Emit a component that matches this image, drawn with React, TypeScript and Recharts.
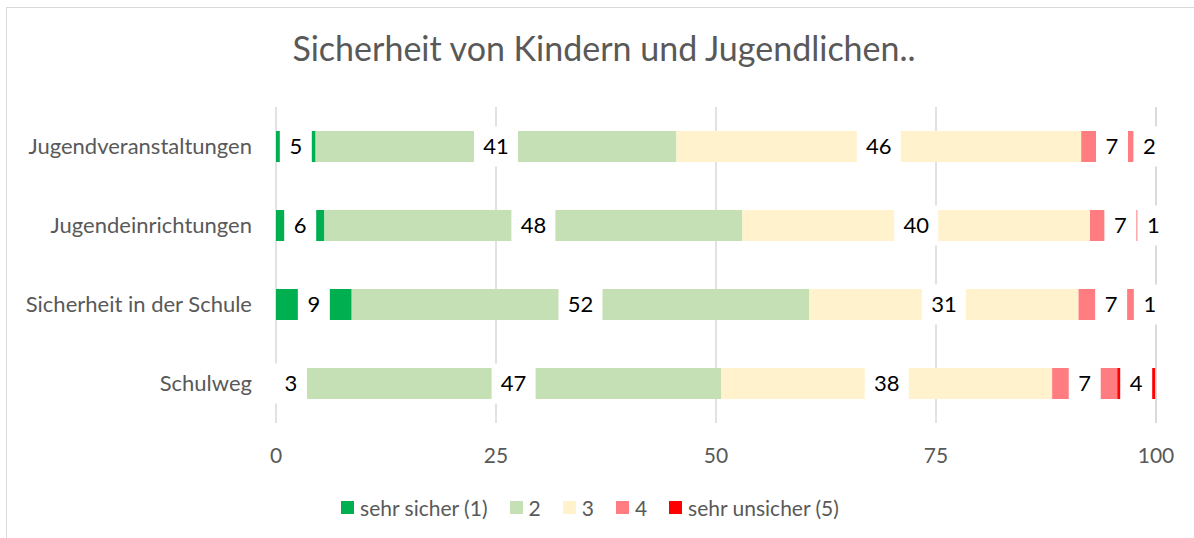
import React from 'react';
import { BarChart, Bar, XAxis, YAxis, CartesianGrid, Legend, LabelList } from 'recharts';

const categories = ['Jugendveranstaltungen', 'Jugendeinrichtungen', 'Sicherheit in der Schule', 'Schulweg'];
const sehrSicher = [4.5, 5.5, 8.6, 3.4];
const stufe2 = [41, 47.5, 52, 47.2];
const stufe3 = [46, 39.5, 30.6, 37.6];
const stufe4 = [7, 6.9, 7.4, 7.4];
const sehrUnsicher = [1.5, 0.6, 1.4, 4.3];
const xTicks = [0, 25, 50, 75, 100];

const seriesKeys = ['s1', 's2', 's3', 's4', 's5'];
const seriesNames = ['sehr sicher (1)', '2', '3', '4', 'sehr unsicher (5)'];
const seriesColors = ['#00B050', '#C5E0B4', '#FFF2CC', '#FF7C80', '#FF0000'];
const seriesValues = [sehrSicher, stufe2, stufe3, stufe4, sehrUnsicher];

const data = categories.map((c, i) => {
  const row: any = { name: c };
  seriesKeys.forEach((k, j) => {
    row[k] = seriesValues[j][i];
  });
  return row;
});

const FONT = 'Lato, "Open Sans", sans-serif';
const GRAY = '#595959';

const renderLabel = (props: any) => {
  const { x, y, width, height, value } = props;
  const txt = String(Math.round(Number(value)));
  const cx = Number(x) + Number(width) / 2;
  const cy = Number(y) + Number(height) / 2;
  const w = txt.length * 12 + 20;
  const h = 40;
  return (
    <g>
      <rect x={cx - w / 2} y={cy - h / 2} width={w} height={h} fill="#ffffff" />
      <text x={cx} y={cy} dy="0.36em" textAnchor="middle" fontFamily={FONT} fontSize={22} fill="#000000">
        {txt}
      </text>
    </g>
  );
};

const renderLegend = () => (
  <div
    style={{
      display: 'flex',
      justifyContent: 'center',
      alignItems: 'center',
      fontFamily: FONT,
      fontSize: 21,
      color: GRAY,
    }}
  >
    {seriesNames.map((n, i) => (
      <div key={n} style={{ display: 'flex', alignItems: 'center', marginRight: i < seriesNames.length - 1 ? 22 : 0 }}>
        <span style={{ display: 'inline-block', width: 13, height: 13, background: seriesColors[i], marginRight: 6 }} />
        <span>{n}</span>
      </div>
    ))}
  </div>
);

export default function App() {
  return (
    <div style={{ position: 'absolute', left: 0, top: 0, width: 1194, height: 538, background: '#fff', overflow: 'hidden' }}>
      <div
        style={{
          position: 'absolute',
          left: 6,
          top: 7,
          width: 1300,
          height: 700,
          border: '1px solid #D9D9D9',
        }}
      />
      <div
        style={{
          position: 'absolute',
          left: 0,
          top: 30,
          width: 1194,
          textAlign: 'center',
          fontFamily: FONT,
          fontSize: 34,
          lineHeight: '36px',
          color: GRAY,
          paddingLeft: 14,
          boxSizing: 'border-box',
        }}
      >
        Sicherheit von Kindern und Jugendlichen..
      </div>
      <div style={{ position: 'absolute', left: 0, top: 0 }}>
        <BarChart
          width={1194}
          height={538}
          data={data}
          layout="vertical"
          margin={{ top: 107, right: 38, left: 0, bottom: 85 }}
          barSize={31}
        >
          <CartesianGrid horizontal={false} stroke="#D9D9D9" strokeWidth={1.5} />
          <XAxis
            type="number"
            domain={[0, 100]}
            ticks={xTicks}
            axisLine={false}
            tickLine={false}
            tickSize={0}
            tickMargin={25}
            height={30}
            tick={{ fill: GRAY, fontSize: 21, fontFamily: FONT }}
          />
          <YAxis
            type="category"
            dataKey="name"
            width={276}
            axisLine={false}
            tickLine={false}
            tickSize={0}
            tickMargin={24}
            tick={{ fill: GRAY, fontSize: 22, fontFamily: FONT }}
          />
          <Legend verticalAlign="middle" align="center" layout="horizontal" wrapperStyle={{ top: 495, left: -7, width: 1194 }} content={renderLegend} />
          {seriesKeys.map((k, i) => (
            <Bar key={k} dataKey={k} name={seriesNames[i]} stackId="a" fill={seriesColors[i]} isAnimationActive={false}>
              <LabelList dataKey={k} content={renderLabel} />
            </Bar>
          ))}
        </BarChart>
      </div>
    </div>
  );
}
